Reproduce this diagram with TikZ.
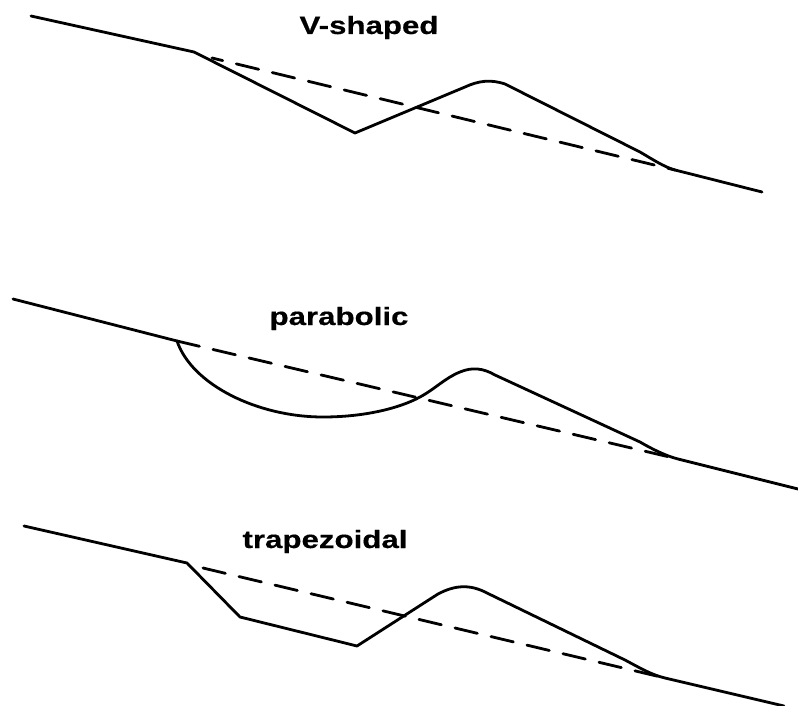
\documentclass[tikz,border=0pt]{standalone}
\usepackage{fontspec}
\setmainfont{Liberation Sans}[BoldFeatures={FakeBold=0.4}]
\newcommand{\widelabel}[1]{\scalebox{1.25}[1]{#1}}
\tikzset{
  ground/.style={line width=2.8pt,black,line join=round,line cap=round},
  orig/.style={line width=2.8pt,black,line cap=round,dash pattern=on 23pt off 14pt},
  lbl/.style={font=\bfseries\fontsize{25}{28}\selectfont,inner sep=0pt,anchor=base}
}
\begin{document}
\begin{tikzpicture}[x=1pt,y=-1pt]
\useasboundingbox (0,0) rectangle (798,706);
% V-shaped
\node[lbl] (t1) at (369,34) {\widelabel{V-shaped}};
\coordinate (a1) at (31,16);
\coordinate (a2) at (194,52);
\coordinate (a2d) at (212,58);
\coordinate (a3) at (675,170);
\draw[ground] (a1) -- (a2) -- (355,133) -- (465,87) .. controls (478,81) and (490,79) .. (505,84) -- (640,152) .. controls (652,159) and (664,167) .. (a3) -- (762,192);
\draw[orig,dash phase=12pt] (a2d) -- (a3);
% parabolic
\node[lbl] (t2) at (339,325) {\widelabel{parabolic}};
\coordinate (b1) at (13,299);
\coordinate (b2) at (177,341);
\coordinate (b3) at (678,459);
\draw[ground] (b1) -- (b2) .. controls (192,385) and (258,417) .. (323,417) .. controls (365,417) and (400,408) .. (420,397) .. controls (435,389) and (445,378) .. (460,372) .. controls (472,367) and (483,368) .. (495,375) -- (640,442) .. controls (652,449) and (666,456) .. (b3) -- (798,489);
\draw[orig] (b2) -- (b3);
% trapezoidal
\node[lbl] (t3) at (325,548) {\widelabel{trapezoidal}};
\coordinate (c1) at (24,526);
\coordinate (c2) at (187,563);
\coordinate (c2d) at (203,568);
\coordinate (c3) at (665,678);
\draw[ground] (c1) -- (c2) -- (240,617) -- (357,646) -- (438,594) .. controls (455,585) and (470,584) .. (487,593) -- (625,660) .. controls (640,668) and (652,675) .. (c3) -- (784,706);
\draw[orig] (c2d) -- (c3);
\end{tikzpicture}
\end{document}
